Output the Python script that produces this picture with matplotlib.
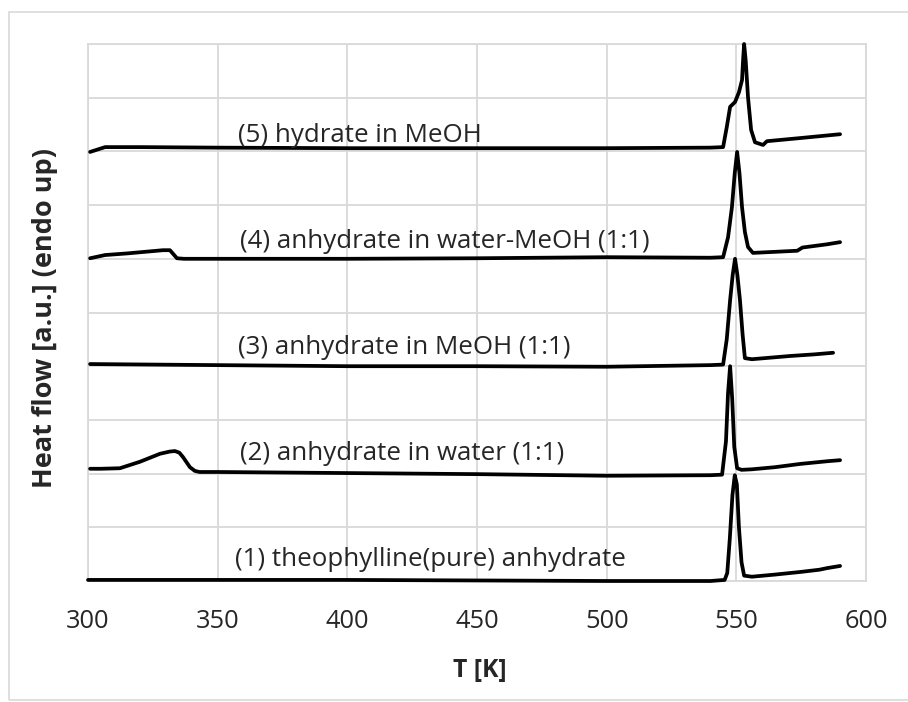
import matplotlib
matplotlib.use("Agg")
import matplotlib.pyplot as plt
from matplotlib.patches import Rectangle

# ---- data (T in K, heat flow in arbitrary offset units) ----
t1 = [300, 350, 400, 450, 500, 540, 545.5, 546.5, 547.5, 548.5, 549.4, 550.2, 551.0, 552.0, 553.0, 556, 565, 575, 582, 585, 590]
y1 = [0.02, 0.02, 0.02, 0.01, 0.0, 0.0, 0.02, 0.15, 0.8, 1.6, 1.97, 1.8, 1.0, 0.35, 0.1, 0.08, 0.12, 0.17, 0.21, 0.24, 0.28]

t2 = [300.8, 305, 312.3, 320, 327.8, 331.5, 333.5, 335.2, 336.6, 339.3, 341.2, 343, 350, 400, 450, 500, 540, 544.5, 546.0, 546.8, 547.6, 548.4, 549.2, 550.3, 552, 556, 565, 574.6, 585, 590]
y2 = [2.09, 2.09, 2.10, 2.22, 2.37, 2.41, 2.42, 2.39, 2.31, 2.12, 2.05, 2.03, 2.03, 2.01, 1.99, 1.96, 1.97, 1.98, 2.6, 3.5, 4.0, 3.4, 2.5, 2.1, 2.07, 2.08, 2.12, 2.18, 2.23, 2.25]

t3 = [300.8, 350, 400, 450, 500, 540, 544.9, 546.3, 547.6, 548.6, 549.5, 550.4, 551.4, 552.4, 553.3, 556, 570.7, 580, 587.3]
y3 = [4.04, 4.02, 4.0, 4.0, 3.99, 4.02, 4.03, 4.5, 5.23, 5.7, 6.0, 5.7, 5.23, 4.6, 4.15, 4.13, 4.19, 4.22, 4.25]

t4 = [300.8, 306.6, 315, 328.9, 331.6, 334.3, 337, 350, 400, 450, 500, 540, 544.9, 546.8, 548.3, 549.4, 550.3, 551.2, 552.2, 553.3, 554.5, 556.4, 565, 573.5, 575.5, 585, 590]
y4 = [6.01, 6.07, 6.10, 6.16, 6.16, 6.01, 6.0, 6.0, 6.0, 6.01, 6.03, 6.02, 6.03, 6.4, 6.96, 7.6, 7.99, 7.6, 6.96, 6.5, 6.22, 6.11, 6.13, 6.15, 6.21, 6.27, 6.31]

t5 = [300.8, 306.6, 320, 350, 400, 450, 500, 540, 544.9, 546.3, 547.6, 549.5, 551.0, 552.2, 552.6, 553.0, 553.6, 554.5, 555.7, 557.2, 560.3, 561.8, 575, 590]
y5 = [7.99, 8.08, 8.08, 8.07, 8.06, 8.06, 8.06, 8.07, 8.08, 8.45, 8.83, 8.92, 9.1, 9.33, 9.7, 10.0, 9.7, 9.01, 8.4, 8.17, 8.12, 8.19, 8.25, 8.32]

labels = ["(1) theophylline(pure) anhydrate",
          "(2) anhydrate in water (1:1)",
          "(3) anhydrate in MeOH (1:1)",
          "(4) anhydrate in water-MeOH (1:1)",
          "(5) hydrate in MeOH"]
label_x = [356.7, 358.6, 357.8, 358.6, 357.8]
label_y = [0.28, 2.25, 4.23, 6.20, 8.17]

x_ticks = [300, 350, 400, 450, 500, 550, 600]

# ---- figure ----
plt.rcParams['font.family'] = ['Open Sans', 'DejaVu Sans']
fig = plt.figure(figsize=(9.08, 7.02), dpi=100)
fig.patches.append(Rectangle((9/908, 1 - 700/702), 1.2, (700 - 12)/702,
                             transform=fig.transFigure, fill=False,
                             edgecolor='#d9d9d9', linewidth=1.2, clip_on=False))
ax = fig.add_axes([88/908, 1 - 581/702, (866 - 88)/908, (581 - 44)/702])

for t, y in [(t1, y1), (t2, y2), (t3, y3), (t4, y4), (t5, y5)]:
    ax.plot(t, y, color='black', linewidth=2.7, solid_joinstyle='round',
            solid_capstyle='round', clip_on=False, zorder=3)

for lab, lx, ly in zip(labels, label_x, label_y):
    ax.text(lx, ly, lab, ha='left', va='baseline', fontsize=18.6, color='#262626')

ax.set_xlim(300, 600)
ax.set_ylim(0, 10)
ax.set_xticks(x_ticks)
ax.set_yticks(range(0, 11))
ax.set_yticklabels([])
ax.grid(True, color='#d9d9d9', linewidth=1.3)
ax.set_axisbelow(True)
for s in ax.spines.values():
    s.set_color('#d9d9d9')
    s.set_linewidth(1.3)
ax.tick_params(axis='both', length=0, labelsize=18.3, colors='#262626', pad=20)
ax.set_xlabel('T [K]', fontsize=17.8, fontweight='bold', color='#262626')
ax.set_ylabel('Heat flow [a.u.] (endo up)', fontsize=19.5, fontweight='bold',
              color='#262626')
ax.xaxis.set_label_coords((480 - 88) / 778, -(670 - 581) / 537)
ax.yaxis.set_label_coords((45 - 88) / 778, (581 - 318) / 537)
ax.xaxis.label.set_va('center')
ax.yaxis.label.set_va('center')

fig.savefig('out.png', dpi=100)
